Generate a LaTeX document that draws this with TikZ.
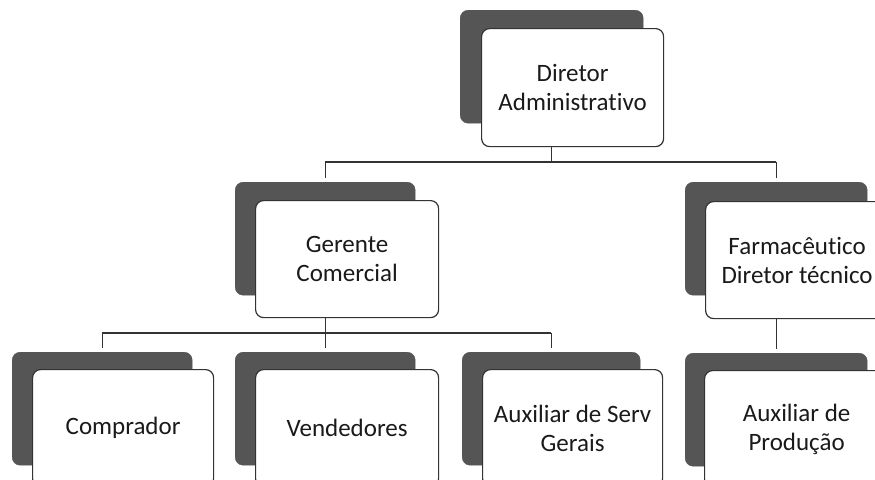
\documentclass[tikz,border=0pt]{standalone}
\usepackage{fontspec}
\setmainfont{Carlito}[Ligatures=NoCommon]
\usetikzlibrary{calc}
\definecolor{shade}{HTML}{555555}
\definecolor{ink}{HTML}{1A1A1A}
\definecolor{edge}{HTML}{333333}
\tikzset{
  backbox/.style={draw=shade, fill=shade, rounded corners=8pt, anchor=north west, inner sep=0pt, minimum width=181pt, minimum height=113pt},
  frontbox/.style={draw=edge, line width=1.2pt, fill=white, rounded corners=8pt, anchor=north west, inner sep=0pt, minimum width=182pt, minimum height=117pt, align=center, text=ink, font=\fontsize{25}{29}\selectfont},
  conn/.style={draw=edge, line width=1.4pt},
  drop/.style={conn, shorten >=4pt}
}
\begin{document}
\begin{tikzpicture}[x=1pt, y=-1pt]
\useasboundingbox (0,0) rectangle (875,479);
\clip (0,0) rectangle (875,479);
\fill[white] (0,0) rectangle (875,479);
% top
\node[backbox, minimum width=183pt] (dirD) at (460,10) {};
\node[frontbox, minimum width=182pt, minimum height=118pt] (dirF) at (481,28) {Diretor\\Administrativo};
% middle
\node[backbox, minimum width=180pt] (gerD) at (235,182) {};
\node[frontbox, minimum width=183pt] (gerF) at (255,200) {Gerente\\Comercial};
\node[backbox, minimum width=182pt] (farD) at (685,182) {};
\node[frontbox, minimum width=183pt] (farF) at (705,201) {Farmacêutico\\Diretor técnico};
% bottom
\node[backbox, minimum width=180pt] (comD) at (12,352) {};
\node[frontbox, minimum width=181pt] (comF) at (32,369) {Comprador};
\node[backbox, minimum width=180pt] (venD) at (235,352) {};
\node[frontbox, minimum width=183pt] (venF) at (255,369) {Vendedores};
\node[backbox, minimum width=178pt] (auxD) at (462,352) {};
\node[frontbox, minimum width=180pt] (auxF) at (482,369) {Auxiliar de Serv\\Gerais};
\node[backbox, minimum width=182pt] (proD) at (685,353) {};
\node[frontbox, minimum width=184pt] (proF) at (704,370) {Auxiliar de\\Produção};
% buses
\coordinate (busA) at (0,162);
\coordinate (busB) at (0,333);
% connectors from Diretor
\draw[conn] (dirD.north |- dirF.south) -- (dirD.north |- busA);
\draw[conn] (gerD.north |- busA) -- (farD.north |- busA);
\draw[drop] (gerD.north |- busA) -- (gerD.north);
\draw[drop] (farD.north |- busA) -- (farD.north);
% connectors from Gerente
\draw[conn] (gerD.north |- gerF.south) -- (gerD.north |- busB);
\draw[conn] (comD.north |- busB) -- (auxD.north |- busB);
\draw[drop] (comD.north |- busB) -- (comD.north);
\draw[drop] (venD.north |- busB) -- (venD.north);
\draw[drop] (auxD.north |- busB) -- (auxD.north);
% connector from Farmaceutico
\draw[drop] (proD.north |- farF.south) -- (proD.north);
\end{tikzpicture}
\end{document}
